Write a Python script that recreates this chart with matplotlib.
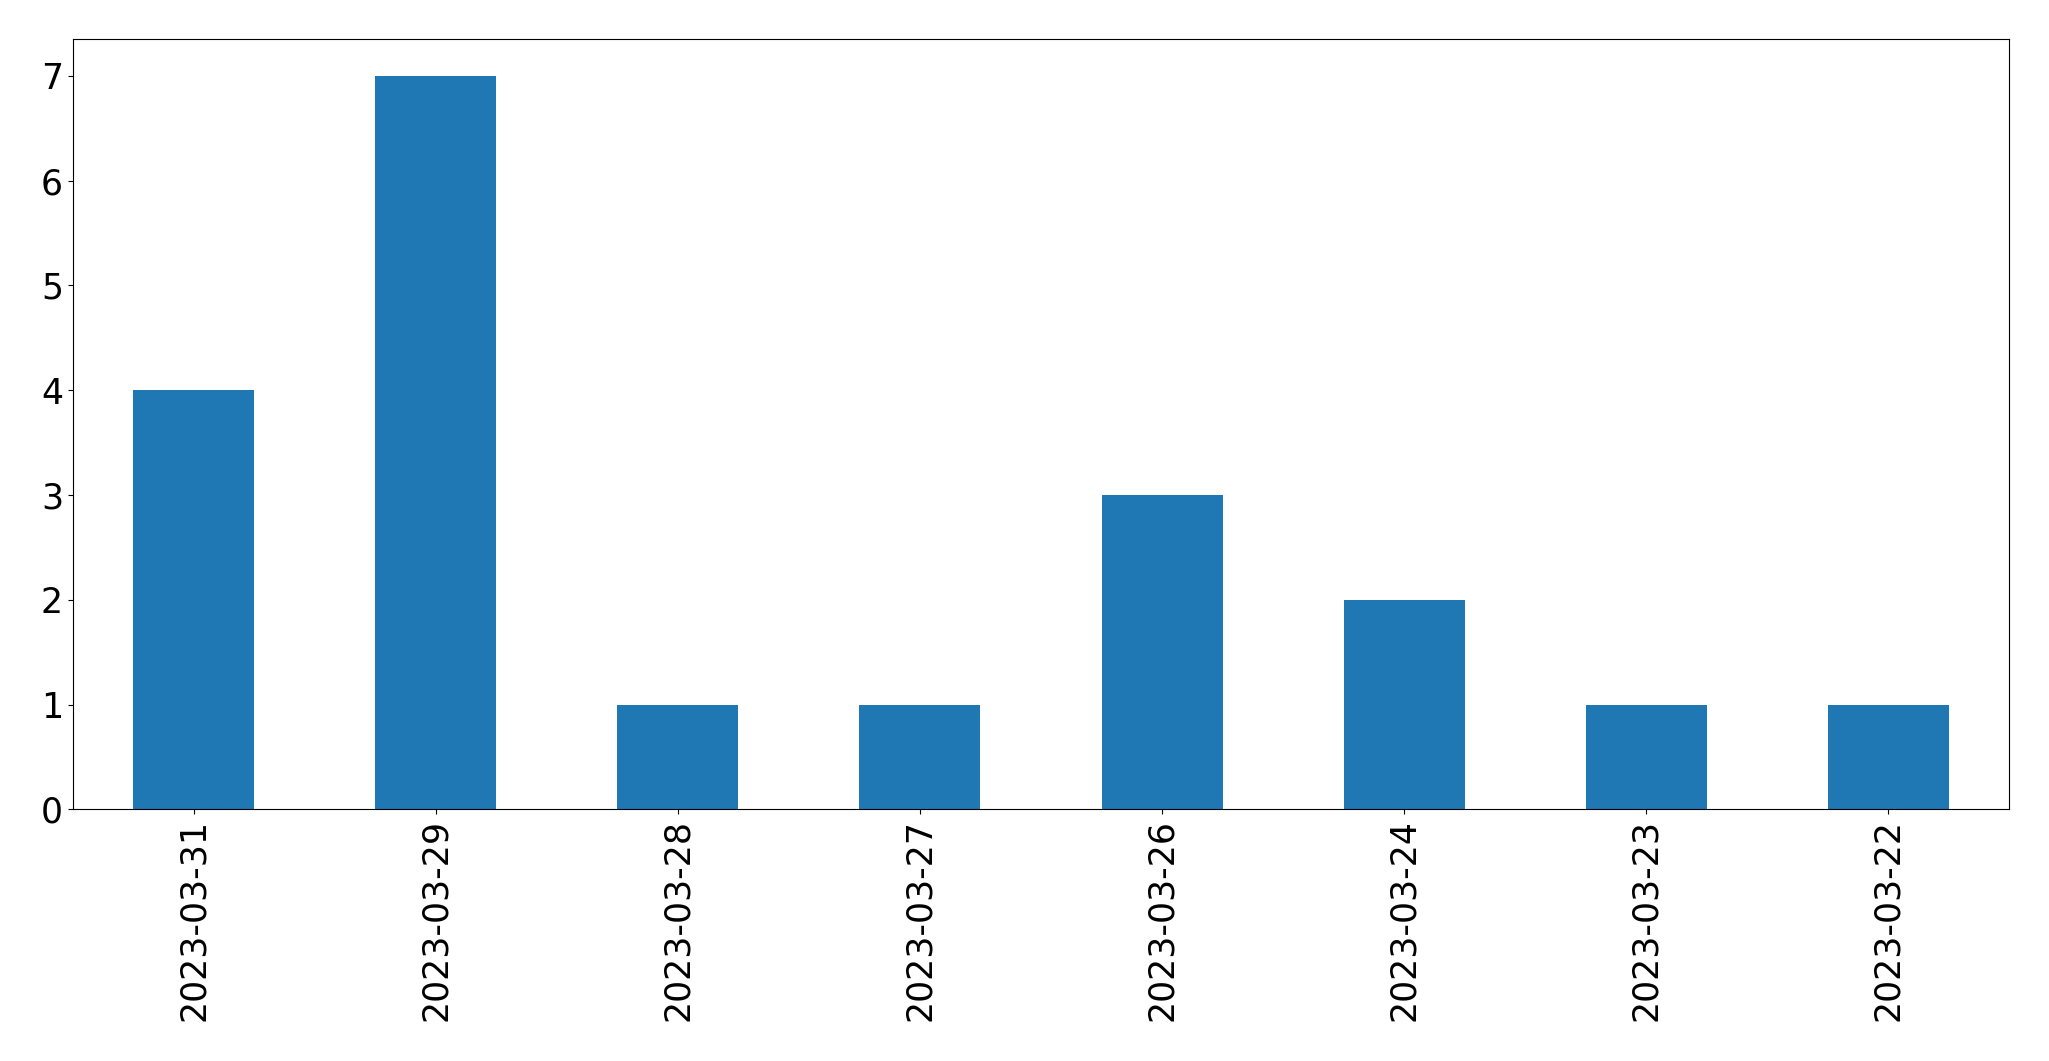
import matplotlib
matplotlib.use("Agg")
import matplotlib.pyplot as plt
import pandas as pd

# --- Data ---
dates = ["2023-03-31", "2023-03-29", "2023-03-28", "2023-03-27",
         "2023-03-26", "2023-03-24", "2023-03-23", "2023-03-22"]
counts = [4, 7, 1, 1, 3, 2, 1, 1]

series = pd.Series(counts, index=dates)

fig = plt.figure(figsize=(20.49, 10.61), dpi=100)
ax = fig.add_axes([72.7 / 2049, 1 - 809.3 / 1061, (2009.3 - 72.7) / 2049, (809.3 - 39.3) / 1061])

series.plot(kind="bar", ax=ax, color="#1f77b4")

ax.tick_params(axis="both", labelsize=25)
ax.set_xlabel("")

fig.savefig("out.png", dpi=100)
